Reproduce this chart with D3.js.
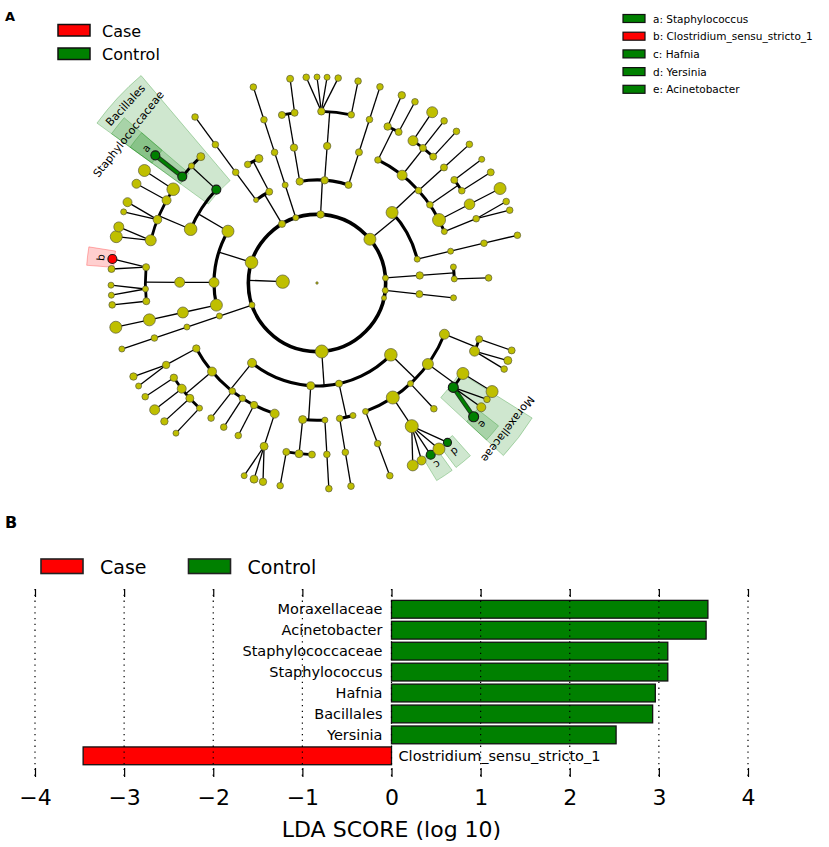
<!DOCTYPE html>
<html>
<head>
<meta charset="utf-8">
<script src="https://cdn.jsdelivr.net/npm/d3@7"></script>
<style>
  body { margin: 0; background: #fff; }
  svg { display: block; font-family: "DejaVu Sans", sans-serif; }
</style>
</head>
<body>
<div id="chart"></div>
<script>
// cladogram taxa: [name, parent, leaf angle (deg, clockwise from east; null = internal), abundance, group]
var taxa = [
  ["root", null, null, 1.2, ""],
  ["k1", "root", null, 6.7, ""],
  // phylum a
  ["p_a", "k1", null, 3.5, ""],
  ["c_a1", "p_a", null, 2.5, ""], ["o_a1", "c_a1", null, 3.3, ""], ["f_a1", "o_a1", null, 3.3, ""], ["g_a1", "f_a1", 233.7, 3.3, ""],
  ["c_a2", "p_a", null, 3.5, ""], ["o_a2a", "c_a2", 239.7, 3.3, ""], ["o_a2b", "c_a2", 245, 4, ""],
  // phylum b
  ["p_b", "k1", null, 3, ""], ["c_b", "p_b", null, 3, ""], ["o_b", "c_b", null, 3.3, ""], ["f_b", "o_b", null, 3.3, ""], ["g_b", "f_b", 252, 3.3, ""],
  // phylum c
  ["p_c", "k1", null, 3.7, ""],
  ["c_c1", "p_c", null, 3.7, ""], ["o_c1", "c_c1", null, 3.7, ""], ["f_c1a", "o_c1", 258.2, 3.5, ""], ["f_c1b", "o_c1", null, 3.5, ""], ["g_c1", "f_c1b", 262.5, 3.5, ""],
  ["c_c2", "p_c", null, 3.7, ""], ["o_c2", "c_c2", null, 3.7, ""], ["f_c2a", "o_c2", null, 3.7, ""],
  ["g_c2", "f_c2a", 267, 3.3, ""], ["g_c3", "f_c2a", 270, 3, ""], ["g_c4", "f_c2a", 272.8, 3, ""], ["g_c5", "f_c2a", 275.9, 3.3, ""],
  ["f_c2b", "o_c2", null, 3.3, ""], ["g_c6", "f_c2b", 281.5, 3.3, ""],
  ["c_c3", "p_c", null, 3.5, ""], ["o_c3", "c_c3", null, 3.5, ""], ["f_c3", "o_c3", null, 3.3, ""], ["g_c7", "f_c3", 287.8, 3.3, ""],
  // phylum d
  ["p_d", "k1", null, 6, ""],
  ["c_d1", "p_d", null, 6, ""],
  ["o_d1", "c_d1", null, 3.3, ""], ["f_d1", "o_d1", null, 3.7, ""], ["g_d1", "f_d1", 294.3, 3.7, ""], ["f_d2", "o_d1", null, 3.5, ""], ["g_d2", "f_d2", 298.4, 3.3, ""],
  ["o_d2", "c_d1", null, 5, ""], ["f_d3", "o_d2", null, 5, ""], ["g_d3", "f_d3", 304, 5.5, ""], ["f_d4", "o_d2", null, 3.5, ""], ["g_d4", "f_d4", 308.1, 3.3, ""],
  ["f_d5", "o_d2", null, 3.5, ""], ["g_d5", "f_d5", 312.6, 3.3, ""],
  ["o_d3", "c_d1", null, 3.3, ""], ["f_d6", "o_d3", null, 3.5, ""], ["g_d6", "f_d6", 317.7, 3.3, ""],
  ["o_d4", "c_d1", null, 3.3, ""], ["f_d7", "o_d4", null, 3.5, ""], ["g_d7", "f_d7", 323.1, 3, ""], ["f_d8", "o_d4", null, 3.3, ""], ["g_d8", "f_d8", 327.5, 3.5, ""],
  ["o_d5", "c_d1", null, 6.5, ""], ["f_d9", "o_d5", null, 5.3, ""], ["g_d9", "f_d9", 332.7, 6, ""],
  ["o_d6", "c_d1", null, 3, ""], ["f_d10", "o_d6", null, 3.3, ""], ["g_d10", "f_d10", 336.7, 3.3, ""], ["g_d11", "f_d10", 339.3, 3.3, ""],
  ["c_d2", "p_d", null, 3, ""], ["o_d7", "c_d2", null, 3, ""], ["f_d11", "o_d7", null, 3.3, ""], ["g_d12", "f_d11", 346.6, 3.3, ""],
  // phyla e, f, g
  ["p_e", "k1", null, 3, ""], ["c_e", "p_e", null, 3.7, ""], ["o_e1", "c_e", 353.3, 3, ""], ["o_e2", "c_e", null, 3, ""], ["f_e", "o_e2", 358.3, 3.3, ""],
  ["p_f", "k1", null, 3, ""], ["c_f", "p_f", null, 3.5, ""], ["o_f", "c_f", 6.2, 3, ""],
  ["p_g", "k1", 12.6, 2.5, ""],
  // phylum h
  ["p_h", "k1", null, 6.5, ""],
  ["c_h1", "p_h", null, 4.5, ""],
  ["o_h1", "c_h1", null, 3.7, ""], ["f_h1", "o_h1", null, 3.7, ""], ["g_h1", "f_h1", 153, 3.7, ""], ["g_h2", "f_h1", 150, 3, ""],
  ["o_h2", "c_h1", null, 4.5, ""],
  ["f_h2", "o_h2", null, 3.7, ""], ["g_h3", "f_h2", 146.5, 3.3, ""],
  ["f_h3", "o_h2", null, 4.5, ""], ["g_h4", "f_h3", 142, 5, ""],
  ["f_h4", "o_h2", null, 4, ""], ["g_h5", "f_h4", 137.8, 3.7, ""],
  ["f_h5", "o_h2", null, 3, ""], ["g_h6", "f_h5", 133.2, 3, ""],
  ["o_h3", "c_h1", null, 3.3, ""], ["f_h6", "o_h3", 128.1, 3.3, ""],
  ["o_h4", "c_h1", null, 3.3, ""], ["f_h7", "o_h4", 122.9, 3.3, ""],
  ["o_h5", "c_h1", null, 3.7, ""], ["f_h8", "o_h5", 117.3, 3.3, ""],
  ["o_h6", "c_h1", null, 4.5, ""], ["f_h9", "o_h6", null, 4, ""], ["g_h7", "f_h9", 110.7, 3, ""], ["g_h8", "f_h9", 107.8, 4, ""], ["g_h9", "f_h9", 105.2, 3.7, ""],
  ["c_h2", "p_h", null, 4, ""],
  ["o_h7", "c_h2", null, 4, ""], ["f_h10", "o_h7", null, 3.5, ""], ["g_h10", "f_h10", 100.3, 3.3, ""], ["f_h11", "o_h7", 96, 4, ""], ["f_h12", "o_h7", 91.7, 3.5, ""],
  ["o_h8", "c_h2", null, 3, ""], ["f_h13", "o_h8", null, 3.3, ""], ["g_h11", "f_h13", 86.7, 3.3, ""],
  ["c_h3", "p_h", null, 3.5, ""],
  ["o_h9", "c_h3", null, 3.3, ""], ["f_h14", "o_h9", null, 3.3, ""], ["g_h12", "f_h14", 80.5, 3.3, ""],
  ["o_h10", "c_h3", 74.8, 3, ""],
  ["c_h4", "p_h", null, 6.3, ""],
  ["o_h11", "c_h4", null, 3, ""], ["f_h15", "o_h11", null, 3.3, ""], ["g_h13", "f_h15", 69.3, 3.3, ""],
  ["o_h12", "c_h4", null, 6.5, ""], ["f_h16", "o_h12", null, 6.5, ""],
  ["g_h14", "f_h16", 62.3, 5.5, ""], ["g_h15", "f_h16", 59.5, 4.5, ""], ["Hafnia", "f_h16", 56.5, 4.5, "Control"],
  ["g_h16", "f_h16", 53.7, 6, ""], ["Yersinia", "f_h16", 50.7, 4, "Control"],
  ["o_h13", "c_h4", null, 3, ""], ["f_h17", "o_h13", 47.1, 3.3, ""],
  ["o_h14", "c_h4", null, 5.5, ""],
  ["Moraxellaceae", "o_h14", null, 5, "Control"], ["Acinetobacter", "Moraxellaceae", 40.5, 5, "Control"],
  ["g_h17", "Moraxellaceae", 37.1, 4.5, ""], ["g_h18", "Moraxellaceae", 34.4, 3.3, ""],
  ["f_h18", "o_h14", null, 6, ""], ["g_h19", "f_h18", 31.8, 6, ""],
  ["o_h15", "c_h4", null, 5, ""], ["f_h19", "o_h15", null, 5, ""], ["g_h20", "f_h19", 24.7, 3.3, ""], ["g_h21", "f_h19", 22.1, 4, ""],
  ["f_h20", "o_h15", null, 3.5, ""], ["g_h22", "f_h20", 19.1, 3.5, ""],
  // phylum i
  ["p_i", "k1", null, 3, ""], ["c_i", "p_i", null, 3, ""], ["o_i", "c_i", null, 3, ""], ["f_i", "o_i", null, 3.3, ""], ["g_i", "f_i", 161.3, 3, ""],
  // phylum j
  ["p_j", "k1", null, 6.3, ""],
  ["c_j1", "p_j", null, 6, ""],
  ["o_j1", "c_j1", null, 6.3, ""],
  ["f_j1", "o_j1", null, 5.5, ""], ["g_j1", "f_j1", 193, 6, ""], ["g_j2", "f_j1", 195.8, 5, ""],
  ["f_j2", "o_j1", null, 4.3, ""], ["g_j3", "f_j2", 200.2, 3, ""], ["g_j4", "f_j2", 203.1, 4.5, ""],
  ["f_j3", "o_j1", null, 4.5, ""], ["g_j5", "f_j3", 208.8, 4.5, ""],
  ["f_j4", "o_j1", null, 6.3, ""], ["g_j6", "f_j4", 213.1, 6, ""],
  ["Bacillales", "c_j1", null, 4.5, "Control"],
  ["Staphylococcaceae", "Bacillales", null, 4.5, "Control"], ["Staphylococcus", "Staphylococcaceae", 218.3, 4.5, "Control"],
  ["f_j5", "Bacillales", 223, 3, ""], ["f_j6", "Bacillales", 227.4, 4, ""],
  ["c_j2", "p_j", null, 5, ""], ["o_j2", "c_j2", null, 5, ""],
  ["f_j7", "o_j2", null, 3.5, ""], ["Clostridium_sensu_stricto_1", "f_j7", 186.7, 4.5, "Case"], ["g_j7", "f_j7", 183.9, 3.5, ""],
  ["f_j8", "o_j2", null, 3, ""], ["g_j8", "f_j8", 179.4, 3, ""], ["g_j9", "f_j8", 176.6, 3, ""],
  ["f_j9", "o_j2", null, 3.5, ""], ["g_j10", "f_j9", 173.9, 3.3, ""],
  ["c_j3", "p_j", null, 6, ""], ["o_j3", "c_j3", null, 5.5, ""], ["f_j10", "o_j3", null, 6, ""], ["g_j11", "f_j10", 167.6, 6, ""]
];

// letters used for the genus biomarkers
var letterKeys = ["a", "b", "c", "d", "e"];
var letterTaxa = ["Staphylococcus", "Clostridium_sensu_stricto_1", "Hafnia", "Yersinia", "Acinetobacter"];
var letterGroups = ["Control", "Case", "Control", "Control", "Control"];

// LDA bar chart
var barNames = ["Moraxellaceae", "Acinetobacter", "Staphylococcaceae", "Staphylococcus", "Hafnia", "Bacillales", "Yersinia", "Clostridium_sensu_stricto_1"];
var barScores = [3.55, 3.53, 3.10, 3.10, 2.96, 2.93, 2.52, -3.46];
var xTicks = [-4, -3, -2, -1, 0, 1, 2, 3, 4];

var groupNames = ["Case", "Control"];
var groupColors = {"Case": "#ff0000", "Control": "#008000"};
var nodeYellow = "#bfbf00";

var svg = d3.select("#chart").append("svg")
    .attr("width", 829)
    .attr("height", 847);

// ---------- panel A ----------
svg.append("text").attr("x", 5).attr("y", 21)
    .style("font-size", "13px").style("font-weight", "bold").text("A");

// Case / Control legend
groupNames.forEach(function(g, i) {
    svg.append("rect").attr("x", 58).attr("y", 24.5 + i * 23.5).attr("width", 32).attr("height", 11.5)
        .attr("fill", groupColors[g]).attr("stroke", "#111").attr("stroke-width", 1.5);
    svg.append("text").attr("x", 102).attr("y", 36.5 + i * 23.5)
        .style("font-size", "16px").text(g);
});

// letter legend
letterKeys.forEach(function(k, i) {
    svg.append("rect").attr("x", 623).attr("y", 14.5 + i * 17.7).attr("width", 22).attr("height", 8)
        .attr("fill", groupColors[letterGroups[i]]).attr("stroke", "#111").attr("stroke-width", 1.2);
    svg.append("text").attr("x", 653).attr("y", 22.5 + i * 17.7)
        .style("font-size", "10.5px").text(k + ": " + letterTaxa[i]);
});

var rScale = d3.scaleLinear().domain([0, 6]).range([0, 206]);
var aScale = d3.scaleLinear().domain([0, 360]).range([0, 2 * Math.PI]);
var sizeScale = d3.scaleLinear().domain([0, 7]).range([0, 7]);

var root = d3.stratify()
    .id(function(d) { return d[0]; })
    .parentId(function(d) { return d[1]; })(taxa);

// node angle = middle of the angular span of its leaves
root.each(function(n) {
    var la = n.leaves().map(function(l) { return l.data[2]; });
    n.angle = (d3.min(la) + d3.max(la)) / 2;
    n.r = rScale(n.depth);
    n.group = n.data[4];
});

function pt(r, a) {
    var t = aScale(a);
    return [r * Math.cos(t), r * Math.sin(t)];
}

var clad = svg.append("g").attr("transform", "translate(317,283)");
var wedgeLayer = clad.append("g");
var linkLayer = clad.append("g");
var nodeLayer = clad.append("g");
var labelLayer = clad.append("g");

// shaded sectors for the biomarker clades
var outerByDepth = {4: 272, 5: 254, 6: 231};
var labelByDepth = {4: 261, 5: 240, 6: 218};
var arcGen = d3.arc();
var marked = root.descendants().filter(function(n) { return n.group; });
marked.sort(function(a, b) { return a.depth - b.depth; });
marked.forEach(function(n) {
    var la = n.leaves().map(function(l) { return l.data[2]; });
    var a0 = d3.min(la) - 2.3, a1 = d3.max(la) + 2.3;
    var col = groupColors[n.group];
    wedgeLayer.append("path")
        .attr("d", arcGen({
            innerRadius: n.depth === 6 ? n.r - 2 : n.r - 3,
            outerRadius: outerByDepth[n.depth],
            startAngle: aScale(a0) + Math.PI / 2,
            endAngle: aScale(a1) + Math.PI / 2
        }))
        .attr("fill", col).attr("fill-opacity", 0.19)
        .attr("stroke", col).attr("stroke-opacity", 0.28).attr("stroke-width", 1);

    var p = pt(labelByDepth[n.depth], n.angle);
    var idx = letterTaxa.indexOf(n.id);
    labelLayer.append("text")
        .attr("transform", "translate(" + p[0] + "," + p[1] + ") rotate(" + (n.angle + 90) + ")")
        .attr("text-anchor", "middle")
        .attr("dominant-baseline", "central")
        .style("font-size", n.depth === 6 ? "10.5px" : "11px")
        .text(n.depth === 6 && idx >= 0 ? letterKeys[idx] : n.id);
});

// branches
var arcWidth = {1: 3.6, 2: 3.2, 3: 3.0, 4: 2.8};
root.each(function(p) {
    if (!p.children || p.depth === 0) return;
    var genusOnly = p.children.every(function(c) { return !c.children && c.depth === 6; });
    if (genusOnly) {
        p.children.forEach(function(c) {
            var s = pt(p.r, p.angle), e = pt(c.r, c.angle);
            if (c.group && p.group) {
                linkLayer.append("line").attr("x1", s[0]).attr("y1", s[1]).attr("x2", e[0]).attr("y2", e[1])
                    .attr("stroke", "#1d3a1d").attr("stroke-width", 4.6);
                linkLayer.append("line").attr("x1", s[0]).attr("y1", s[1]).attr("x2", e[0]).attr("y2", e[1])
                    .attr("stroke", groupColors[c.group]).attr("stroke-width", 2.8);
            } else {
                linkLayer.append("line").attr("x1", s[0]).attr("y1", s[1]).attr("x2", e[0]).attr("y2", e[1])
                    .attr("stroke", "#000").attr("stroke-width", 1.3);
            }
        });
        return;
    }
    var cr = rScale(p.depth + 1);
    var s = pt(p.r, p.angle), e = pt(cr, p.angle);
    linkLayer.append("line").attr("x1", s[0]).attr("y1", s[1]).attr("x2", e[0]).attr("y2", e[1])
        .attr("stroke", "#000").attr("stroke-width", 1.3);
    var angs = p.children.map(function(c) { return c.angle; }).concat([p.angle]);
    var path = d3.path();
    if (p.depth === 1) {
        path.arc(0, 0, cr, 0, 2 * Math.PI);
    } else {
        path.arc(0, 0, cr, aScale(d3.min(angs)), aScale(d3.max(angs)));
    }
    linkLayer.append("path").attr("d", path.toString())
        .attr("fill", "none").attr("stroke", "#000").attr("stroke-width", arcWidth[p.depth]);
});

// nodes
nodeLayer.selectAll("circle")
    .data(root.descendants())
    .enter()
    .append("circle")
        .attr("cx", function(d) { return pt(d.r, d.angle)[0]; })
        .attr("cy", function(d) { return pt(d.r, d.angle)[1]; })
        .attr("r", function(d) { return sizeScale(d.data[3]); })
        .attr("fill", function(d) { return d.group ? groupColors[d.group] : nodeYellow; })
        .attr("stroke", function(d) { return d.group ? "#1a1a1a" : "#5a5a3a"; })
        .attr("stroke-width", function(d) { return d.group ? 1.1 : 0.7; });

// ---------- panel B ----------
svg.append("text").attr("x", 5).attr("y", 528)
    .style("font-size", "16px").style("font-weight", "bold").text("B");

var legendX = [41, 188.5];
groupNames.forEach(function(g, i) {
    svg.append("rect").attr("x", legendX[i]).attr("y", 559).attr("width", 42).attr("height", 14.5)
        .attr("fill", groupColors[g]).attr("stroke", "#222").attr("stroke-width", 1.6);
    svg.append("text").attr("x", legendX[i] + 59).attr("y", 573.5)
        .style("font-size", "19px").text(g);
});

var x = d3.scaleLinear().domain([-4, 4]).range([35, 748]);
var y = d3.scaleBand().domain(barNames).range([598.8, 766.3]).paddingInner(0.15).paddingOuter(0.075);

var bars = svg.append("g");
bars.selectAll("rect")
    .data(barNames)
    .enter()
    .append("rect")
        .attr("x", function(d, i) { return x(Math.min(0, barScores[i])); })
        .attr("y", function(d) { return y(d); })
        .attr("width", function(d, i) { return Math.abs(x(barScores[i]) - x(0)); })
        .attr("height", y.bandwidth())
        .attr("fill", function(d, i) { return barScores[i] > 0 ? groupColors.Control : groupColors.Case; })
        .attr("stroke", "#111")
        .attr("stroke-width", 1.3);

bars.selectAll("text")
    .data(barNames)
    .enter()
    .append("text")
        .attr("x", function(d, i) { return barScores[i] > 0 ? x(0) - 9 : x(0) + 7; })
        .attr("y", function(d) { return y(d) + y.bandwidth() / 2; })
        .attr("dy", "0.35em")
        .attr("text-anchor", function(d, i) { return barScores[i] > 0 ? "end" : "start"; })
        .style("font-size", "14.5px")
        .text(function(d) { return d; });

// dotted grid on top of the bars
svg.append("g").selectAll("line")
    .data(xTicks)
    .enter()
    .append("line")
        .attr("x1", function(d) { return x(d); })
        .attr("x2", function(d) { return x(d); })
        .attr("y1", 589).attr("y2", 777)
        .attr("stroke", "#000").attr("stroke-width", 1.2)
        .attr("stroke-dasharray", "1.3,4.5");

var topAxis = svg.append("g").attr("transform", "translate(0,589)")
    .call(d3.axisTop(x).tickValues(xTicks).tickSizeInner(-8).tickSizeOuter(0).tickFormat(""));
topAxis.select(".domain").remove();

var bottomAxis = svg.append("g").attr("transform", "translate(0,777)")
    .call(d3.axisBottom(x).tickValues(xTicks).tickSizeInner(-9).tickSizeOuter(0).tickPadding(12));
bottomAxis.select(".domain").remove();
bottomAxis.selectAll("text").style("font-size", "22px").style("font-family", "DejaVu Sans");
svg.selectAll(".tick line").attr("stroke-width", 1.2);

svg.append("text").attr("x", x(0)).attr("y", 837)
    .attr("text-anchor", "middle")
    .style("font-size", "22px")
    .text("LDA SCORE (log 10)");
</script>
</body>
</html>
